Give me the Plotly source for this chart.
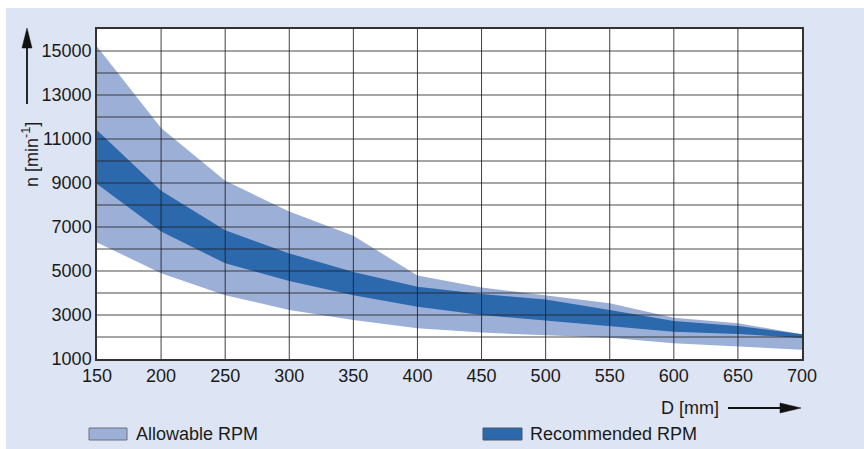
import plotly.graph_objects as go

# ---- data ----
D = [150, 200, 250, 300, 350, 400, 450, 500, 550, 600, 650, 700]
allow_upper = [15200, 11500, 9100, 7700, 6600, 4800, 4250, 3900, 3530, 2870, 2630, 2120]
rec_upper = [11400, 8650, 6850, 5800, 4950, 4280, 3950, 3700, 3230, 2730, 2500, 2130]
rec_lower = [8950, 6800, 5350, 4550, 3900, 3380, 3000, 2740, 2500, 2240, 2140, 1950]
allow_lower = [6300, 4900, 3900, 3230, 2770, 2400, 2200, 2100, 1970, 1720, 1560, 1420]

x_ticks = [150, 200, 250, 300, 350, 400, 450, 500, 550, 600, 650, 700]
y_ticks = [1000, 3000, 5000, 7000, 9000, 11000, 13000, 15000]
y_grid = [2000, 3000, 4000, 5000, 6000, 7000, 8000, 9000, 10000, 11000, 12000, 13000, 14000, 15000]
x_grid = [200, 250, 300, 350, 400, 450, 500, 550, 600, 650]

C_ALLOW = "#9cafd7"
C_REC = "#2c68ac"
C_BG = "#dde5f4"
FONT = "Liberation Sans, Arial, sans-serif"

W, H = 864, 449
L, R, T, B = 97, 62, 29, 90
PW, PH = W - L - R, H - T - B


def px_x(p):
    return (p - L) / PW


def px_y(p):
    return (H - B - p) / PH


fig = go.Figure()
fig.add_trace(go.Scatter(x=D, y=allow_lower, mode="lines", line=dict(width=0, color=C_ALLOW),
                         showlegend=False, hoverinfo="skip"))
fig.add_trace(go.Scatter(x=D, y=allow_upper, mode="lines", line=dict(width=0, color=C_ALLOW),
                         fill="tonexty", fillcolor=C_ALLOW, name="Allowable RPM", showlegend=False))
fig.add_trace(go.Scatter(x=D, y=rec_lower, mode="lines", line=dict(width=0, color=C_REC),
                         showlegend=False, hoverinfo="skip"))
fig.add_trace(go.Scatter(x=D, y=rec_upper, mode="lines", line=dict(width=0, color=C_REC),
                         fill="tonexty", fillcolor=C_REC, name="Recommended RPM", showlegend=False))

shapes = []
# outer light-blue panel and white plot area
shapes.append(dict(type="rect", xref="paper", yref="paper", x0=px_x(6), x1=px_x(W + 5),
                   y0=px_y(H + 5), y1=px_y(8), fillcolor=C_BG, line=dict(width=0), layer="below"))
shapes.append(dict(type="rect", xref="paper", yref="paper", x0=0, x1=1, y0=0, y1=1,
                   fillcolor="white", line=dict(width=0), layer="below"))
# grid lines above the bands
for gx in x_grid:
    shapes.append(dict(type="line", xref="x", yref="paper", x0=gx, x1=gx, y0=0, y1=1,
                       line=dict(color="rgba(30,30,30,0.85)", width=1), layer="above"))
for gy in y_grid:
    shapes.append(dict(type="line", xref="paper", yref="y", x0=0, x1=1, y0=gy, y1=gy,
                       line=dict(color="rgba(30,30,30,0.8)", width=1), layer="above"))
# legend swatches
shapes.append(dict(type="rect", xref="paper", yref="paper", x0=px_x(89), x1=px_x(127),
                   y0=px_y(440), y1=px_y(428), fillcolor=C_ALLOW, line=dict(color="#6b6f78", width=1)))
shapes.append(dict(type="rect", xref="paper", yref="paper", x0=px_x(483), x1=px_x(522),
                   y0=px_y(440), y1=px_y(428), fillcolor=C_REC, line=dict(color="#4a5566", width=1)))

# axis arrows (drawn as shapes)
ARROW = "#111111"
shapes.append(dict(type="line", xref="paper", yref="paper", x0=px_x(27), x1=px_x(27),
                   y0=px_y(104), y1=px_y(44), line=dict(color=ARROW, width=1.8)))
shapes.append(dict(type="path", xref="paper", yref="paper",
                   path="M %f,%f L %f,%f L %f,%f Z" % (px_x(27), px_y(28), px_x(22), px_y(48),
                                                      px_x(32), px_y(48)),
                   fillcolor=ARROW, line=dict(color=ARROW, width=0.5)))
shapes.append(dict(type="line", xref="paper", yref="paper", x0=px_x(728), x1=px_x(784),
                   y0=px_y(408), y1=px_y(408), line=dict(color=ARROW, width=1.8)))
shapes.append(dict(type="path", xref="paper", yref="paper",
                   path="M %f,%f L %f,%f L %f,%f Z" % (px_x(801), px_y(408), px_x(780), px_y(403),
                                                      px_x(780), px_y(413)),
                   fillcolor=ARROW, line=dict(color=ARROW, width=0.5)))

TXT = dict(size=18, color="#1a1a1a", family=FONT)
annotations = [
    dict(text="n [min<sup>-1</sup>]", x=px_x(30), y=px_y(155), xref="paper", yref="paper",
         xanchor="center", yanchor="middle", textangle=-90, showarrow=False, font=TXT),
    dict(text="D [mm]", x=px_x(690), y=px_y(408), xref="paper", yref="paper",
         xanchor="center", yanchor="middle", showarrow=False, font=TXT),
    dict(text="Allowable RPM", x=px_x(134), y=px_y(434), xref="paper", yref="paper",
         xanchor="left", yanchor="middle", showarrow=False, font=TXT),
    dict(text="Recommended RPM", x=px_x(528), y=px_y(434), xref="paper", yref="paper",
         xanchor="left", yanchor="middle", showarrow=False, font=TXT),
]

fig.update_layout(
    width=W, height=H,
    margin=dict(l=L, r=R, t=T, b=B, pad=0),
    paper_bgcolor="white", plot_bgcolor="white",
    font=dict(family=FONT, size=18, color="#1a1a1a"),
    shapes=shapes, annotations=annotations, showlegend=False,
    xaxis=dict(range=[150, 700], tickvals=x_ticks, ticktext=[str(v) for v in x_ticks],
               showgrid=False, zeroline=False, showline=True, mirror=True,
               linecolor="#333", linewidth=1.5, ticks="", layer="above traces",
               tickfont=dict(size=18)),
    yaxis=dict(range=[1000, 16000], tickvals=y_ticks, ticktext=[str(v) for v in y_ticks],
               showgrid=False, zeroline=False, showline=True, mirror=True,
               linecolor="#333", linewidth=1.5, ticks="", layer="above traces",
               tickfont=dict(size=18)),
)

fig.write_html("out.html")
